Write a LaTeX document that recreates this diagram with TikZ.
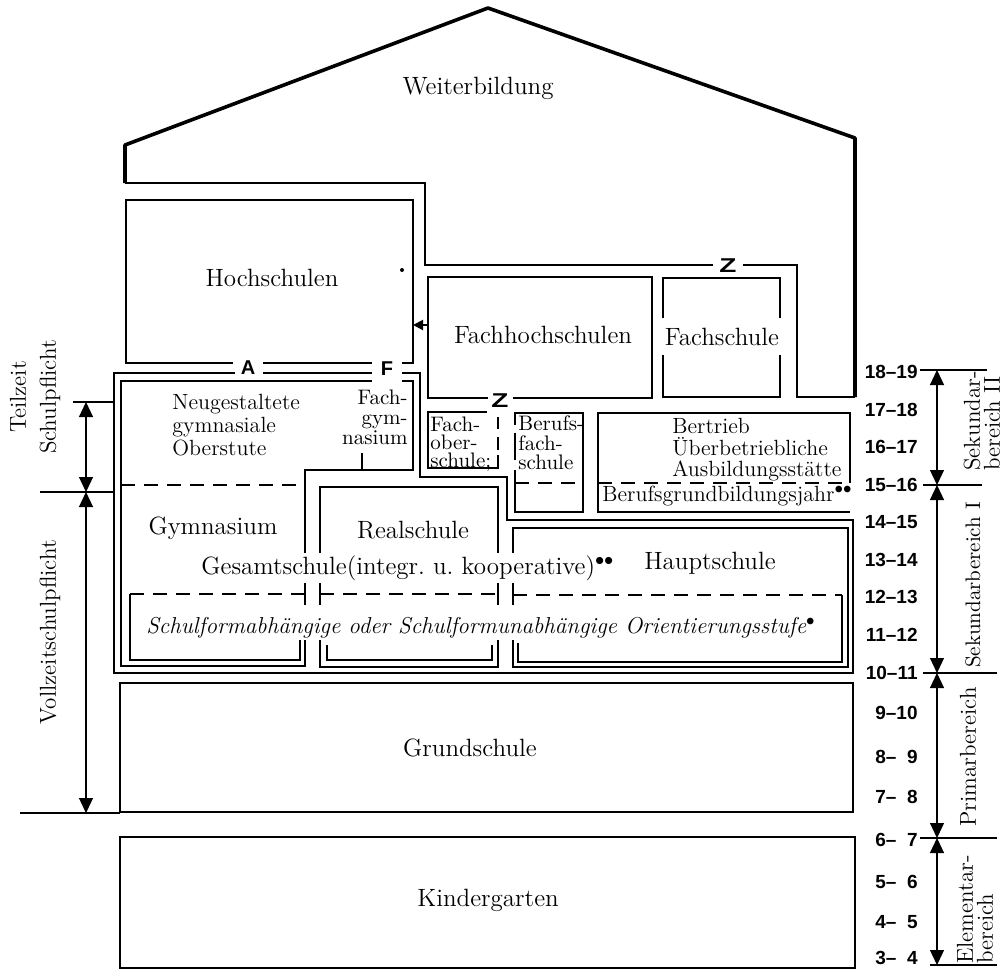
\documentclass[tikz,border=0pt]{standalone}
\usepackage{fontspec}
\newfontfamily\agefont{Liberation Sans}
\usetikzlibrary{arrows.meta}
\begin{document}
\begin{tikzpicture}[x=0.5pt, y=-0.5pt,
  wall/.style={line width=1.2pt},
  roofline/.style={line width=1.8pt, line join=round},
  brk/.style={line width=1.2pt, dash pattern=on 7pt off 4.5pt},
  dimline/.style={line width=0.6pt},
  dimarr/.style={line width=0.6pt, {Triangle[width=7pt,length=7.5pt]}-{Triangle[width=7pt,length=7.5pt]}},
  lbl/.style={font=\fontsize{12.5}{13}\selectfont, inner sep=0pt},
  sml/.style={font=\fontsize{10.5}{10.5}\selectfont, inner sep=0pt, align=left},
  age/.style={font=\agefont\bfseries\fontsize{9.5}{10}\selectfont, anchor=east, inner sep=0pt},
  gate/.style={font=\agefont\bfseries\fontsize{10}{10}\selectfont, inner sep=0pt},
  side/.style={font=\fontsize{11.5}{10}\selectfont, rotate=90, align=left, inner sep=0pt}]
\useasboundingbox (0,0) rectangle (1007,970);
\draw[roofline] (125,183) -- (125,145) -- (488,8) -- (855,138) -- (855,397);
\draw[wall] (713,265) -- (425,265) -- (425,183) -- (125,183); \draw[wall] (743,265) -- (797,265) -- (797,397) -- (855,397);
\node[gate] (z1) at (728,266) {\scalebox{1.4}[1]{Z}};
\node[lbl] (wb) at (478,88) {Weiterbildung};
\draw[wall] (233,363) -- (126,363) -- (126,200) -- (413,200) -- (413,363) -- (402,363); \draw[wall] (263,363) -- (372,363);
\node[lbl] (hoch) at (272,278) {Hochschulen};
\fill (402,270) circle (1pt);
\coordinate (hin) at (428,325); \coordinate (hedge) at (413,325);
\draw[line width=1pt, -{Triangle[width=5pt,length=5pt]}] (hin) -- (hedge);
\draw[wall] (235,373) -- (114,373) -- (114,673) -- (853,673) -- (853,520) -- (507,520) -- (507,477) -- (420,477) -- (420,373) -- (402,373); \draw[wall] (263,373) -- (372,373);
\node[gate] (ga) at (248,368) {A}; \node[gate] (gf) at (387,369) {F};
\draw[wall] (372,381) -- (121,381) -- (121,666) -- (305,666) -- (305,640); \draw[wall] (305,605) -- (305,583); \draw[wall] (305,553) -- (305,470) -- (413,470) -- (413,381) -- (402,381);
\draw[wall] (362,453) -- (362,470); \draw[brk] (121,485) -- (305,485);
\draw[wall] (320,553) -- (320,487) -- (498,487) -- (498,553); \draw[wall] (320,583) -- (320,605) (498,583) -- (498,605); \draw[wall] (320,640) -- (320,667) -- (498,667) -- (498,640);
\draw[wall] (513,553) -- (513,528) -- (848,528) -- (848,667) -- (513,667) -- (513,640); \draw[wall] (513,583) -- (513,605);
\draw[brk] (130,594) -- (305,594); \draw[wall] (130,594) -- (130,660) -- (300,660) -- (300,640);
\draw[brk] (320,594) -- (498,594); \draw[wall] (327,645) -- (327,660) -- (492,660) -- (492,645);
\draw[brk] (513,595) -- (842,595); \draw[wall] (842,595) -- (842,662) -- (518,662) -- (518,643);
\draw[wall] (488,398) -- (428,398) -- (428,277) -- (652,277) -- (652,398) -- (513,398);
\node[gate] (z2) at (500,401) {\scalebox{1.4}[1]{Z}};
\node[lbl] (fhs) at (543,335) {Fachhochschulen};
\draw[wall] (663,318) -- (663,278) -- (780,278) -- (780,318); \draw[wall] (663,355) -- (663,397) -- (780,397) -- (780,355);
\node[lbl] (fs) at (722,337) {Fachschule};
\draw[wall] (487,412) -- (428,412) -- (428,468) -- (498,468) -- (498,455); \draw[wall] (498,450) -- (498,437) (498,429) -- (498,417);
\draw[wall] (515,470) -- (515,512) -- (583,512) -- (583,413) -- (515,413) -- (515,425); \draw[wall] (515,433) -- (515,460); \draw[brk] (515,483) -- (583,483);
\draw[wall] (850,483) -- (850,413) -- (598,413) -- (598,512) -- (850,512); \draw[brk] (598,483) -- (850,483);
\draw[wall] (120,683) rectangle (853,812); \draw[wall] (120,837) rectangle (855,968);
\node[sml, anchor=west, font=\fontsize{11}{11.5}\selectfont] (neu) at (172,425) {Neugestaltete\\gymnasiale\\Oberstute};
\node[sml, align=right, anchor=east, font=\fontsize{10.5}{10}\selectfont] (fgym) at (408,417) {Fach-\\gym-\\nasium};
\node[sml, anchor=west, font=\fontsize{10.5}{9}\selectfont] (fos) at (430,444) {Fach-\\ober-\\schule;};
\node[sml, anchor=west, font=\fontsize{10.5}{9.8}\selectfont] (bfs) at (518,443) {Berufs-\\fach-\\schule};
\node[sml, anchor=west, font=\fontsize{11}{10.8}\selectfont] (betr) at (672,450) {Bertrieb\\Überbetriebliche\\Ausbildungsstätte};
\node[sml, anchor=west, font=\fontsize{11}{11}\selectfont] (bgj) at (602,496) {Berufsgrundbildungsjahr$^{\bullet\bullet}$};
\node[lbl] (gym) at (213,528) {Gymnasium};
\node[lbl] (real) at (413,530) {Realschule};
\node[lbl] (ges) at (408,568) {Gesamtschule(integr.\ u.\ kooperative)$^{\bullet\bullet}$};
\node[lbl] (haupt) at (710,563) {Hauptschule};
\node[lbl, font=\itshape\fontsize{11.5}{13}\selectfont] (ori) at (481,628) {Schulformabhängige oder Schulformunabhängige Orientierungsstufe$^{\bullet}$};
\node[lbl] (grund) at (470,748) {Grundschule};
\node[lbl] (kind) at (488,900) {Kindergarten};
\coordinate (lt) at (86,402); \coordinate (lm) at (86,492); \coordinate (lb) at (86,813);
\draw[dimline] (73,402) -- (114,402); \draw[dimline] (40,492) -- (114,492); \draw[dimline] (20,813) -- (120,813);
\draw[dimarr] (lt) -- (lm); \draw[dimarr] (lm) -- (lb);
\node[side, align=center, font=\fontsize{11.5}{15}\selectfont] (teil) at (35,397) {Teilzeit\\Schulpflicht};
\node[side] (voll) at (50,632) {Vollzeitschulpflicht};
\coordinate (r1) at (937,370); \coordinate (r2) at (937,485); \coordinate (r3) at (937,673); \coordinate (r4) at (937,838); \coordinate (r5) at (937,965);
\draw[dimline] (920,370) -- (987,370); \draw[dimline] (923,485) -- (982,485); \draw[dimline] (923,673) -- (997,673); \draw[dimline] (920,838) -- (997,838); \draw[dimline] (930,965) -- (997,965);
\draw[dimarr] (r1) -- (r2); \draw[dimarr] (r2) -- (r3); \draw[dimarr] (r3) -- (r4); \draw[dimarr] (r4) -- (r5);
\foreach \a/\y in {18–19/372, 17–18/410, 16–17/447, 15–16/485, 14–15/522, 13–14/560, 12–13/597, 11–12/635, 10–11/673, 9–10/713, {8–\hphantom{0}9}/757, {7–\hphantom{0}8}/797, {6–\hphantom{0}7}/840, {5–\hphantom{0}6}/882, {4–\hphantom{0}5}/922, {3–\hphantom{0}4}/958}
  \node[age] at (918,\y) {\a};
\node[side, anchor=west] (sek2) at (982,471) {Sekundar-\\bereich II};
\node[side, font=\fontsize{10.5}{10}\selectfont] (sek1) at (973,585) {Sekundarbereich I};
\node[side] (prim) at (968,757) {Primarbereich};
\node[side, anchor=west] (elem) at (975,964) {Elementar-\\bereich};
\end{tikzpicture}
\end{document}
